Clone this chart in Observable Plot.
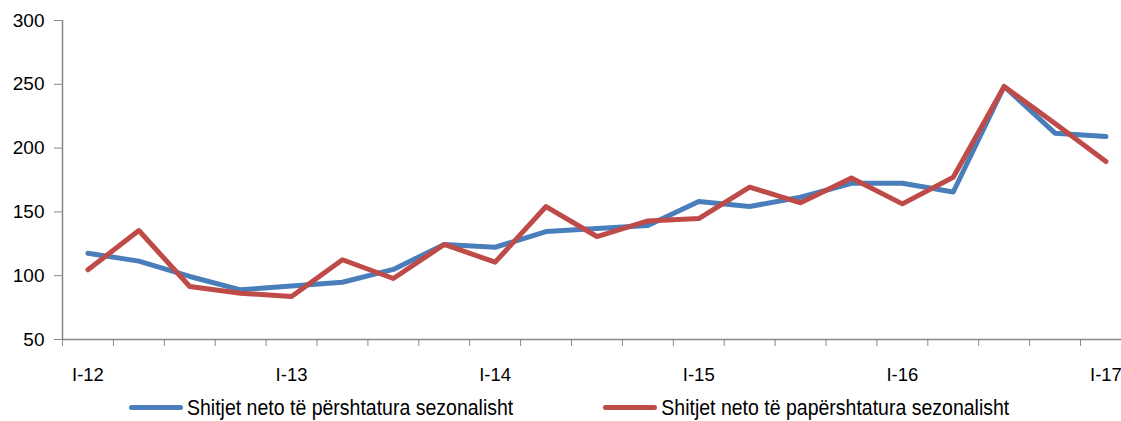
<!DOCTYPE html>
<html>
<head>
<meta charset="utf-8">
<script src="https://cdn.jsdelivr.net/npm/d3@7"></script>
<script src="https://cdn.jsdelivr.net/npm/@observablehq/plot@0.6"></script>
<style>
  html, body { margin: 0; padding: 0; background: #fff; }
  body { width: 1121px; height: 421px; overflow: hidden; font-family: "Liberation Sans", Arial, sans-serif; }
  #chart svg { display: block; }
  .legend { display: flex; align-items: center; height: 31px; padding-left: 129px; font-size: 19.5px; color: #000; }
  .item { display: flex; align-items: center; }
  .swatch { width: 54px; height: 5px; border-radius: 3px; margin-right: 4px; }
  .label { display: inline-block; transform: scaleY(1.12); }
  .item + .item { margin-left: 90px; }
</style>
</head>
<body>
<div id="chart"></div>
<div class="legend" id="legend"></div>
<script>
// Quarters I-12 .. I-17
const quarters = [
  "I-12","II-12","III-12","IV-12",
  "I-13","II-13","III-13","IV-13",
  "I-14","II-14","III-14","IV-14",
  "I-15","II-15","III-15","IV-15",
  "I-16","II-16","III-16","IV-16",
  "I-17"
];
// Shitjet neto të përshtatura sezonalisht (seasonally adjusted)
const adjusted = [
  117.6, 111.4, 99.4, 88.9,
  91.9, 94.9, 104.9, 124.5,
  122.3, 134.6, 137.0, 139.3,
  158.2, 154.2, 161.5, 172.4,
  172.5, 165.6, 248.3, 211.7,
  209.1
];
// Shitjet neto të papërshtatura sezonalisht (not seasonally adjusted)
const unadjusted = [
  104.6, 135.4, 91.5, 86.3,
  83.7, 112.5, 97.8, 124.5,
  110.6, 154.2, 130.7, 142.9,
  144.8, 169.4, 157.1, 176.6,
  156.3, 177.2, 248.3, 219.3,
  189.5
];
const yTicks = [50, 100, 150, 200, 250, 300];
const xTickLabels = ["I-12","I-13","I-14","I-15","I-16","I-17"];
const seriesNames = [
  "Shitjet neto të përshtatura sezonalisht",
  "Shitjet neto të papërshtatura sezonalisht"
];
const colors = ["#4A7EBB", "#BE4B48"];

const rows = quarters.map((q, i) => ({i, q, a: adjusted[i], u: unadjusted[i]}));
const labelIdx = xTickLabels.map(l => quarters.indexOf(l));
const boundaries = d3.range(quarters.length).map(i => i - 0.5);

const plot = Plot.plot({
  width: 1121,
  height: 392,
  marginLeft: 62,
  marginRight: 0,
  marginTop: 20,
  marginBottom: 53,
  style: {fontFamily: "'Liberation Sans', Arial, sans-serif", fontSize: "19px", color: "#000", background: "#fff"},
  x: {type: "linear", domain: [-0.5, quarters.length - 0.5], range: [62, 62 + 50.9 * quarters.length]},
  y: {domain: [50, 300], range: [339, 20]},
  marks: [
    Plot.axisY({ticks: yTicks, tickSize: 8, tickPadding: 10, stroke: "#898989", fill: "#000", label: null, fontSize: 19, className: "yax"}),
    Plot.axisX({ticks: boundaries, tickSize: 7, tickFormat: () => "", stroke: "#898989", label: null}),
    Plot.axisX({ticks: labelIdx, tickSize: 0, tickPadding: 28, tickFormat: i => quarters[i], fill: "#000", label: null, fontSize: 18.5, className: "xax"}),
    Plot.ruleX([-0.5], {stroke: "#898989", strokeWidth: 1.5}),
    Plot.ruleY([50], {stroke: "#898989", strokeWidth: 1.5}),
    Plot.line(rows, {x: "i", y: "a", stroke: colors[0], strokeWidth: 5, strokeLinecap: "round"}),
    Plot.line(rows, {x: "i", y: "u", stroke: colors[1], strokeWidth: 5, strokeLinecap: "round"})
  ]
});
// narrower, taller glyphs, as in the reference
function stretch(sel, sx, sy) {
  plot.querySelectorAll(sel).forEach(t => {
    const tr = t.getAttribute("transform");
    if (tr && !t.hasAttribute("y")) t.setAttribute("transform", tr + ` scale(${sx},${sy})`);
  });
}
stretch(".yax text", 0.95, 1.12);
stretch(".xax text", 0.9, 1.14);
document.getElementById("chart").appendChild(plot);

const legend = document.getElementById("legend");
seriesNames.forEach((name, k) => {
  const item = document.createElement("div");
  item.className = "item";
  const sw = document.createElement("span");
  sw.className = "swatch";
  sw.style.background = colors[k];
  const tx = document.createElement("span");
  tx.className = "label";
  tx.textContent = name;
  item.appendChild(sw);
  item.appendChild(tx);
  legend.appendChild(item);
});
</script>
</body>
</html>
